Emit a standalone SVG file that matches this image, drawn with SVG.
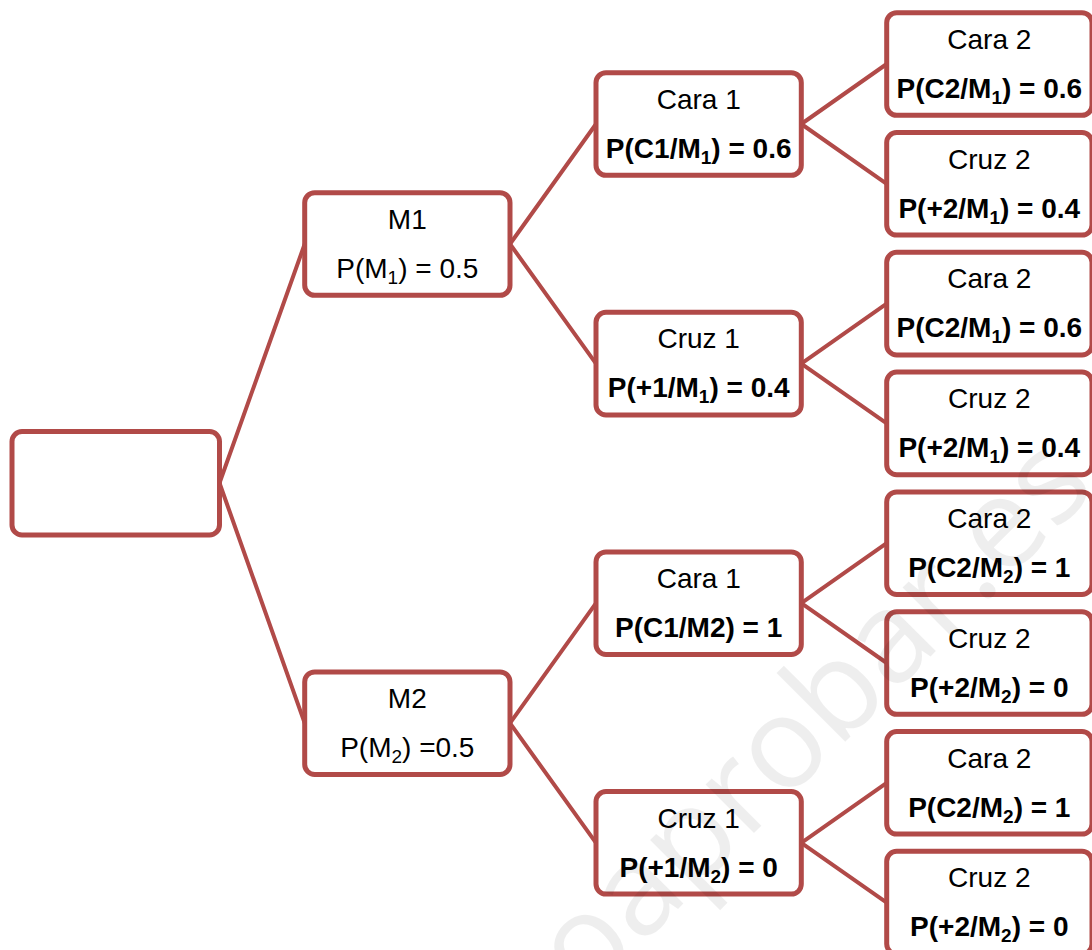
<svg xmlns="http://www.w3.org/2000/svg" width="1092" height="950" viewBox="0 0 1092 950">
  <style>
    .box { fill: #ffffff; stroke: #b14a48; stroke-width: 5; }
    .link { fill: none; stroke: #b14a48; stroke-width: 4; stroke-linecap: round; }
    .t { font-family: "Liberation Sans", Arial, sans-serif; font-size: 28px; fill: #000000; text-anchor: middle; }
    .b { font-weight: bold; }
    .sub { font-size: 19px; }
    .wm { font-family: "Open Sans", "Liberation Sans", sans-serif; font-size: 128px; fill: #000000; fill-opacity: 0.065; text-anchor: end; }
  </style>

  <!-- connectors -->
  <g id="connectors">
    <path class="link" d="M219.5 483 L304.7 244 M219.5 483 L304.7 723.2"/>
    <path class="link" d="M510 244 L596 124 M510 244 L596 363.6 M510 723.2 L596 603.2 M510 723.2 L596 842.8"/>
    <path class="link" d="M801.3 124 L886.7 64 M801.3 124 L886.7 183.8 M801.3 363.6 L886.7 303.6 M801.3 363.6 L886.7 423.4 M801.3 603.2 L886.7 543.2 M801.3 603.2 L886.7 663 M801.3 842.8 L886.7 782.8 M801.3 842.8 L886.7 902.6"/>
  </g>

  <!-- root -->
  <g id="root"><rect class="box" x="12" y="431.5" width="207.5" height="103.5" rx="10"/></g>

  <!-- first draw -->
  <g id="m1">
    <rect class="box" x="304.7" y="192.7" width="205.3" height="102.6" rx="10"/>
    <text class="t" x="407.3" y="228.7">M1</text>
    <text class="t" x="407.3" y="277.7">P(M<tspan class="sub" dy="6">1</tspan><tspan dy="-6">) = 0.5</tspan></text>
  </g>
  <g id="m2">
    <rect class="box" x="304.7" y="671.9" width="205.3" height="102.6" rx="10"/>
    <text class="t" x="407.3" y="707.9">M2</text>
    <text class="t" x="407.3" y="756.9">P(M<tspan class="sub" dy="6">2</tspan><tspan dy="-6">) =0.5</tspan></text>
  </g>

  <!-- second draw -->
  <g id="m1-cara1">
    <rect class="box" x="596" y="72.7" width="205.3" height="102.6" rx="10"/>
    <text class="t" x="698.7" y="108.7">Cara 1</text>
    <text class="t b" x="698.7" y="157.7">P(C1/M<tspan class="sub" dy="6">1</tspan><tspan dy="-6">) = 0.6</tspan></text>
  </g>
  <g id="m1-cruz1">
    <rect class="box" x="596" y="312.3" width="205.3" height="102.6" rx="10"/>
    <text class="t" x="698.7" y="348.3">Cruz 1</text>
    <text class="t b" x="698.7" y="397.3">P(+1/M<tspan class="sub" dy="6">1</tspan><tspan dy="-6">) = 0.4</tspan></text>
  </g>
  <g id="m2-cara1">
    <rect class="box" x="596" y="551.9" width="205.3" height="102.6" rx="10"/>
    <text class="t" x="698.7" y="587.9">Cara 1</text>
    <text class="t b" x="698.7" y="636.9">P(C1/M2) = 1</text>
  </g>
  <g id="m2-cruz1">
    <rect class="box" x="596" y="791.5" width="205.3" height="102.6" rx="10"/>
    <text class="t" x="698.7" y="827.5">Cruz 1</text>
    <text class="t b" x="698.7" y="876.5">P(+1/M<tspan class="sub" dy="6">2</tspan><tspan dy="-6">) = 0</tspan></text>
  </g>

  <!-- third draw -->
  <g id="m1-cara1-cara2">
    <rect class="box" x="886.7" y="12.7" width="205.3" height="102.6" rx="10"/>
    <text class="t" x="989.3" y="48.7">Cara 2</text>
    <text class="t b" x="989.3" y="97.7">P(C2/M<tspan class="sub" dy="6">1</tspan><tspan dy="-6">) = 0.6</tspan></text>
  </g>
  <g id="m1-cara1-cruz2">
    <rect class="box" x="886.7" y="132.5" width="205.3" height="102.6" rx="10"/>
    <text class="t" x="989.3" y="168.5">Cruz 2</text>
    <text class="t b" x="989.3" y="217.5">P(+2/M<tspan class="sub" dy="6">1</tspan><tspan dy="-6">) = 0.4</tspan></text>
  </g>
  <g id="m1-cruz1-cara2">
    <rect class="box" x="886.7" y="252.3" width="205.3" height="102.6" rx="10"/>
    <text class="t" x="989.3" y="288.3">Cara 2</text>
    <text class="t b" x="989.3" y="337.3">P(C2/M<tspan class="sub" dy="6">1</tspan><tspan dy="-6">) = 0.6</tspan></text>
  </g>
  <g id="m1-cruz1-cruz2">
    <rect class="box" x="886.7" y="372.1" width="205.3" height="102.6" rx="10"/>
    <text class="t" x="989.3" y="408.1">Cruz 2</text>
    <text class="t b" x="989.3" y="457.1">P(+2/M<tspan class="sub" dy="6">1</tspan><tspan dy="-6">) = 0.4</tspan></text>
  </g>
  <g id="m2-cara1-cara2">
    <rect class="box" x="886.7" y="491.9" width="205.3" height="102.6" rx="10"/>
    <text class="t" x="989.3" y="527.9">Cara 2</text>
    <text class="t b" x="989.3" y="576.9">P(C2/M<tspan class="sub" dy="6">2</tspan><tspan dy="-6">) = 1</tspan></text>
  </g>
  <g id="m2-cara1-cruz2">
    <rect class="box" x="886.7" y="611.7" width="205.3" height="102.6" rx="10"/>
    <text class="t" x="989.3" y="647.7">Cruz 2</text>
    <text class="t b" x="989.3" y="696.7">P(+2/M<tspan class="sub" dy="6">2</tspan><tspan dy="-6">) = 0</tspan></text>
  </g>
  <g id="m2-cruz1-cara2">
    <rect class="box" x="886.7" y="731.5" width="205.3" height="102.6" rx="10"/>
    <text class="t" x="989.3" y="767.5">Cara 2</text>
    <text class="t b" x="989.3" y="816.5">P(C2/M<tspan class="sub" dy="6">2</tspan><tspan dy="-6">) = 1</tspan></text>
  </g>
  <g id="m2-cruz1-cruz2">
    <rect class="box" x="886.7" y="851.3" width="205.3" height="102.6" rx="10"/>
    <text class="t" x="989.3" y="887.3">Cruz 2</text>
    <text class="t b" x="989.3" y="936.3">P(+2/M<tspan class="sub" dy="6">2</tspan><tspan dy="-6">) = 0</tspan></text>
  </g>

  <!-- site mark -->
  <text class="wm" transform="translate(1098 489) rotate(-45)" x="0" y="0">yoquieroaprobar.es</text>
</svg>
